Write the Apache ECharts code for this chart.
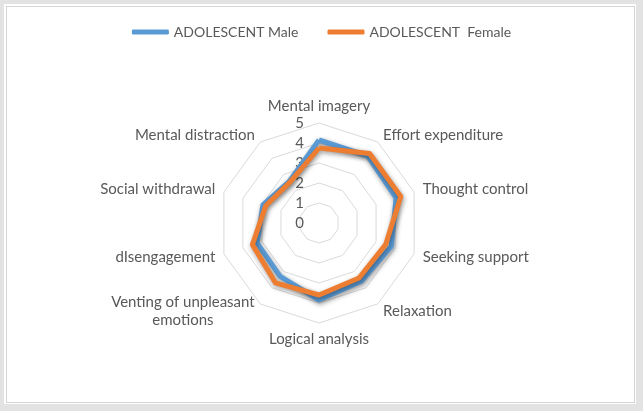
<!DOCTYPE html>
<html>
<head>
<meta charset="utf-8">
<script src="https://cdn.jsdelivr.net/npm/echarts@6/dist/echarts.min.js"></script>
<style>
  html, body { margin: 0; padding: 0; width: 643px; height: 411px; background: #e3e3e3; overflow: hidden; }
  #panel { position: absolute; left: 4px; top: 4px; width: 632px; height: 400px; background: #ffffff; }
  #inner { position: absolute; left: 6px; top: 6px; width: 627px; height: 395px; border: 1px solid #d6d6d6; }
  #chart { position: absolute; left: 0; top: 0; width: 643px; height: 411px; }
</style>
</head>
<body>
<div id="panel"></div>
<div id="inner"></div>
<div id="chart"></div>
<script>
// Categories in clockwise order starting from the top
const categories = [
  'Mental imagery', 'Effort expenditure', 'Thought control', 'Seeking support',
  'Relaxation', 'Logical analysis', 'Venting of unpleasant\nemotions',
  'dIsengagement', 'Social withdrawal', 'Mental distraction'
];
const maleValues   = [4.15, 4.15, 4.05, 3.8, 3.6, 3.85, 3.3, 3.25, 2.95, 2.55];
const femaleValues = [3.75, 4.3, 4.3, 3.5, 3.4, 3.6, 3.7, 3.5, 2.8, 2.5];
const seriesNames = ['ADOLESCENT Male', 'ADOLESCENT  Female'];
const axisMax = 5;

// ECharts radar runs counter-clockwise; reorder so the chart reads clockwise
const order = [0].concat(categories.map((_, i) => i).slice(1).reverse());
const indicators = order.map((i, k) => {
  const ind = { name: categories[i], min: 0, max: axisMax };
  if (k === 0) ind.axisLabel = { show: true };
  return ind;
});
const pick = arr => order.map(i => arr[i]);

const font = 'Lato, "Open Sans", sans-serif';
const nameSize = 15;
const ctx = document.createElement('canvas').getContext('2d');
ctx.font = nameSize + 'px ' + font;
const blockWidth = lines => Math.ceil(Math.max.apply(null, lines.map(s => ctx.measureText(s).width)));

const chart = echarts.init(document.getElementById('chart'), null, { renderer: 'canvas' });
chart.setOption({
  backgroundColor: 'transparent',
  animation: false,
  legend: {
    top: 20,
    left: 'center',
    itemWidth: 37,
    itemHeight: 5,
    itemGap: 29,
    icon: 'roundRect',
    textStyle: { fontFamily: font, fontSize: 14, color: '#595959' },
    data: seriesNames
  },
  radar: {
    center: [319, 223],
    radius: 100,
    startAngle: 90,
    shape: 'polygon',
    splitNumber: 5,
    indicator: indicators,
    nameGap: 9,
    axisName: {
      color: '#595959',
      fontFamily: font,
      fontSize: nameSize,
      formatter: function (v) {
        if (v.indexOf('\n') >= 0) {
          const lines = v.split('\n');
          const w = blockWidth(lines);
          return lines.map(s => '{c' + w + '|' + s + '}').join('\n');
        }
        return v;
      },
      rich: (function () {
        const r = {};
        categories.filter(c => c.indexOf('\n') >= 0).forEach(c => {
          const w = blockWidth(c.split('\n'));
          r['c' + w] = { width: w, align: 'center', fontFamily: font, fontSize: nameSize, color: '#595959', lineHeight: 18 };
        });
        return r;
      })()
    },
    axisLine: { show: false },
    axisTick: { show: false },
    axisLabel: { show: false, color: '#595959', fontFamily: font, fontSize: 15, margin: 15 },
    splitLine: { lineStyle: { color: '#d9d9d9', width: 1 } },
    splitArea: { show: false }
  },
  series: [{
    type: 'radar',
    symbol: 'none',
    data: [
      {
        name: seriesNames[0], value: pick(maleValues),
        lineStyle: { color: '#5b9bd5', width: 5, shadowColor: 'rgba(0,0,0,0.4)', shadowBlur: 5, shadowOffsetX: 1, shadowOffsetY: 2 },
        itemStyle: { color: '#5b9bd5' }
      },
      {
        name: seriesNames[1], value: pick(femaleValues),
        lineStyle: { color: '#ed7d31', width: 5, shadowColor: 'rgba(0,0,0,0.4)', shadowBlur: 5, shadowOffsetX: 1, shadowOffsetY: 2 },
        itemStyle: { color: '#ed7d31' }
      }
    ]
  }]
});
</script>
</body>
</html>
